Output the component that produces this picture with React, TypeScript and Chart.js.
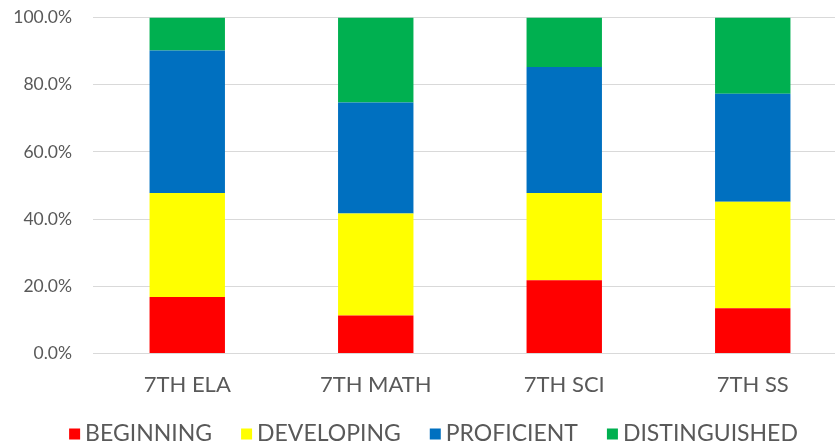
import React, { useEffect, useRef } from "react";
import { Chart, registerables } from "chart.js";

Chart.register(...registerables);

const categories = ["7TH ELA", "7TH MATH", "7TH SCI", "7TH SS"];
const seriesNames = ["BEGINNING", "DEVELOPING", "PROFICIENT", "DISTINGUISHED"];
const beginning = [16.8, 11.3, 21.8, 13.5];
const developing = [31.0, 30.4, 26.0, 31.7];
const proficient = [42.4, 33.0, 37.5, 32.1];
const distinguished = [9.8, 25.3, 14.7, 22.7];
const yTicks = [0, 20, 40, 60, 80, 100];
const seriesColors = ["#FF0000", "#FFFF00", "#0070C0", "#00B050"];

const TEXT_COLOR = "#595959";
const FONT_FAMILY = "Lato, 'Open Sans', sans-serif";

const legendPlugin = {
  id: "customBottomLegend",
  afterDraw(chart: any) {
    const ctx: CanvasRenderingContext2D = chart.ctx;
    ctx.save();
    ctx.font = `23px ${FONT_FAMILY}`;
    ctx.textBaseline = "middle";
    ctx.textAlign = "left";
    const box = 11;
    const gapText = 5;
    const gapItem = 29;
    const items = chart.data.datasets.map((ds: any) => ({
      label: ds.label as string,
      color: ds.backgroundColor as string,
      w: ctx.measureText(ds.label).width,
    }));
    const total =
      items.reduce((s: number, it: any) => s + box + gapText + it.w, 0) +
      gapItem * (items.length - 1);
    let x = 433.5 - total / 2;
    const y = 434;
    for (const it of items) {
      ctx.fillStyle = it.color;
      ctx.fillRect(x, y - box / 2, box, box);
      x += box + gapText;
      ctx.fillStyle = TEXT_COLOR;
      ctx.fillText(it.label, x, y);
      x += it.w + gapItem;
    }
    ctx.restore();
  },
};

export default function App() {
  const canvasRef = useRef<HTMLCanvasElement | null>(null);

  useEffect(() => {
    if (!canvasRef.current) return;
    const seriesValues = [beginning, developing, proficient, distinguished];
    const chart = new Chart(canvasRef.current, {
      type: "bar",
      data: {
        labels: categories,
        datasets: seriesNames.map((name, i) => ({
          label: name,
          data: seriesValues[i],
          backgroundColor: seriesColors[i],
          borderWidth: 0,
          barPercentage: 0.4,
          categoryPercentage: 1,
        })),
      },
      options: {
        responsive: false,
        animation: false,
        devicePixelRatio: 1,
        layout: { padding: { top: 17.5, left: 0, right: 3, bottom: 41.5 } },
        plugins: {
          legend: { display: false },
          tooltip: { enabled: false },
        },
        scales: {
          x: {
            stacked: true,
            grid: { display: false },
            border: { display: false },
            ticks: {
              color: TEXT_COLOR,
              font: { family: FONT_FAMILY, size: 22 },
              padding: 10,
              maxRotation: 0,
              autoSkip: false,
            },
            afterFit: (scale: any) => {
              scale.height = 50;
            },
          },
          y: {
            stacked: true,
            min: 0,
            max: 100,
            afterBuildTicks: (scale: any) => {
              scale.ticks = yTicks.map((v) => ({ value: v }));
            },
            grid: { color: "#D9D9D9", lineWidth: 1, drawTicks: false },
            border: { display: false },
            ticks: {
              color: TEXT_COLOR,
              font: { family: FONT_FAMILY, size: 17.5 },
              padding: 21,
              callback: (v: any) => Number(v).toFixed(1) + "%",
            },
            afterFit: (scale: any) => {
              scale.width = 93;
              scale.paddingTop = 0;
              scale.paddingBottom = 0;
            },
          },
        },
      },
      plugins: [legendPlugin],
    });
    return () => chart.destroy();
  }, []);

  return (
    <div
      style={{
        position: "fixed",
        left: 0,
        top: 0,
        width: 835,
        height: 445,
        overflow: "hidden",
        background: "#FFFFFF",
      }}
    >
      <canvas
        ref={canvasRef}
        width={850}
        height={445}
        style={{ display: "block", width: 850, height: 445 }}
      />
    </div>
  );
}
